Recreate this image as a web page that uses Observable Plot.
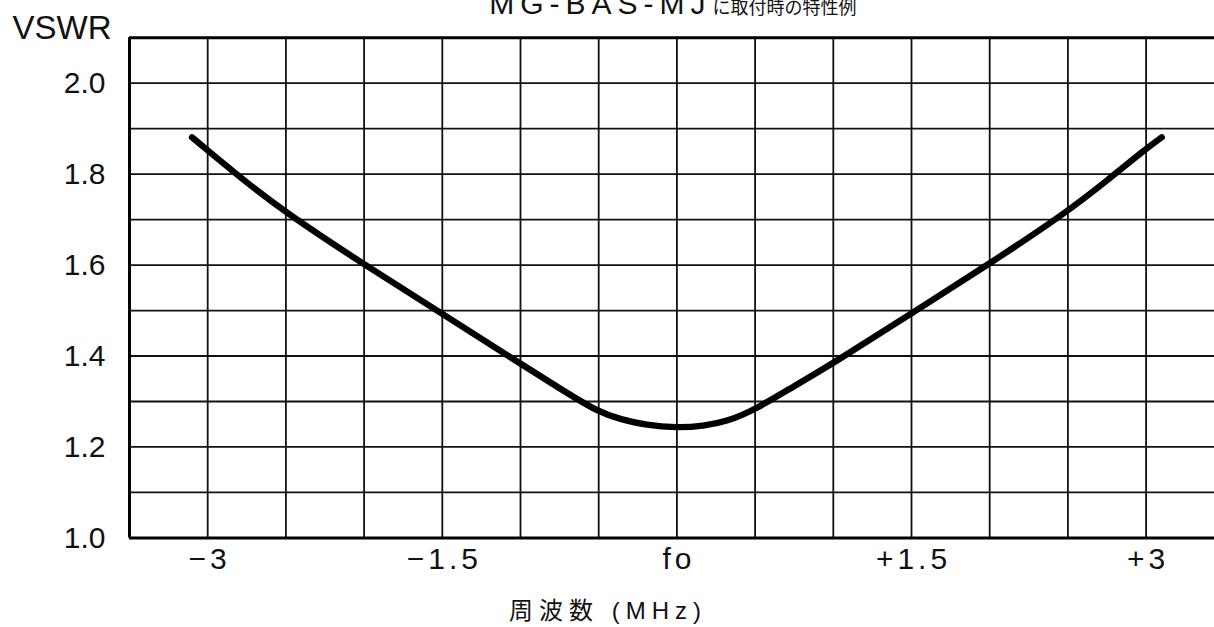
<!DOCTYPE html>
<html>
<head>
<meta charset="utf-8">
<script src="https://cdn.jsdelivr.net/npm/d3@7"></script>
<script src="https://cdn.jsdelivr.net/npm/@observablehq/plot@0.6"></script>
<style>
  html, body { margin: 0; padding: 0; background: #fff; overflow: hidden; }
  #chart svg { display: block; }
</style>
</head>
<body>
<div id="chart"></div>
<script>
// ---- data ----
const offsetMHz = [-3.1, -3.0, -2.75, -2.5, -2.0, -1.5, -1.0, -0.75, -0.5, -0.35, -0.2, 0, 0.17, 0.32, 0.5, 0.75, 1.0, 1.5, 2.0, 2.5, 2.75, 3.0, 3.1];
const vswr      = [1.881, 1.852, 1.781, 1.715, 1.601, 1.493, 1.383, 1.329, 1.276, 1.260, 1.248, 1.242, 1.246, 1.256, 1.282, 1.334, 1.384, 1.494, 1.603, 1.718, 1.786, 1.856, 1.881];

const xTickValues = [-3, -1.5, 0, 1.5, 3];
const xTickLabels = ["\u22123", "\u22121.5", "fo", "+1.5", "+3"];
const yTickValues = [1.0, 1.2, 1.4, 1.6, 1.8, 2.0];
const xGridValues = [-3, -2.5, -2, -1.5, -1, -0.5, 0, 0.5, 1, 1.5, 2, 2.5, 3];
const yGridValues = [1.1, 1.2, 1.3, 1.4, 1.5, 1.6, 1.7, 1.8, 1.9, 2.0];
const xDomain = [-3.5, 3.5];
const yDomain = [1.0, 2.1];

const titleLatin = "MG-BAS-MJ";
const titleJapanese = "に取付時の特性例";
const yLabel = "VSWR";
const xLabel = "周波数 (MHz)";

const curveData = offsetMHz.map((x, i) => ({x, y: vswr[i]}));

// ---- layout ----
const W = 1214, H = 627;
const padL = 129, padT = 37.2, frameBottom = 537.4;
const pxPerMHz = 156.4;
const sans = "'Liberation Sans', Arimo, 'DejaVu Sans', sans-serif";
const cjk = "'Liberation Sans', 'Noto Sans CJK JP', sans-serif";

const chart = Plot.plot({
  width: W,
  height: H,
  marginLeft: padL,
  marginRight: W - (padL + 7 * pxPerMHz),
  marginTop: padT,
  marginBottom: H - frameBottom,
  x: {domain: xDomain, range: [padL, padL + 7 * pxPerMHz], label: null},
  y: {domain: yDomain, range: [frameBottom, padT], label: null},
  style: {fontFamily: sans, background: "#fff", color: "#111"},
  marks: [
    Plot.ruleX(xGridValues, {x: d => d, stroke: "#111", strokeWidth: 1.8}),
    Plot.ruleY(yGridValues, {y: d => d, stroke: "#111", strokeWidth: 1.8}),
    Plot.ruleY([yDomain[0], yDomain[1]], {y: d => d, stroke: "#000", strokeWidth: 3}),
    Plot.ruleX([xDomain[0]], {x: d => d, stroke: "#000", strokeWidth: 3}),
    Plot.line(curveData, {x: "x", y: "y", curve: "basis", stroke: "#000", strokeWidth: 6.3, strokeLinecap: "round", strokeLinejoin: "round"}),
    Plot.axisY(yTickValues, {anchor: "left", label: null, tickSize: 0, tickPadding: 24, tickFormat: d => d.toFixed(1), fontSize: 30, fontFamily: sans, fill: "#111"}),
    Plot.axisX(xTickValues, {anchor: "bottom", label: null, tickSize: 0, tickPadding: 10, tickFormat: d => xTickLabels[xTickValues.indexOf(d)], fontSize: 30, fontFamily: sans, fill: "#111", dx: 2}),
    Plot.text([yLabel], {text: d => d, frameAnchor: "top-left", dx: 12 - padL, dy: 38 - padT, lineAnchor: "bottom", textAnchor: "start", fontSize: 33, fontFamily: sans, fill: "#111"}),
    Plot.text([xLabel], {text: d => d, frameAnchor: "bottom-left", dx: 607.5 - padL, dy: 618 - frameBottom, lineAnchor: "bottom", textAnchor: "middle", fontSize: 24, fontFamily: cjk, fill: "#111"}),
    Plot.text([titleLatin], {text: d => d, frameAnchor: "top-left", dx: 711 - padL, dy: 13 - padT, lineAnchor: "bottom", textAnchor: "end", fontSize: 30, fontFamily: sans, fill: "#111"}),
    Plot.text([titleJapanese], {text: d => d, frameAnchor: "top-left", dx: 712 - padL, dy: 13 - padT, lineAnchor: "bottom", textAnchor: "start", fontSize: 18, fontFamily: "'Noto Sans CJK JP', sans-serif", fill: "#111"})
  ]
});

// letter spacing of the plotter-style lettering
const spacing = new Map([
  ...xTickLabels.map(t => [t, "4px"]),
  [xLabel, "6px"],
  [titleLatin, "6px"],
  [yLabel, "0px"]
]);
d3.select(chart).selectAll("text").each(function () {
  const t = this.textContent;
  if (spacing.has(t)) this.style.letterSpacing = spacing.get(t);
});

document.getElementById("chart").appendChild(chart);
</script>
</body>
</html>
